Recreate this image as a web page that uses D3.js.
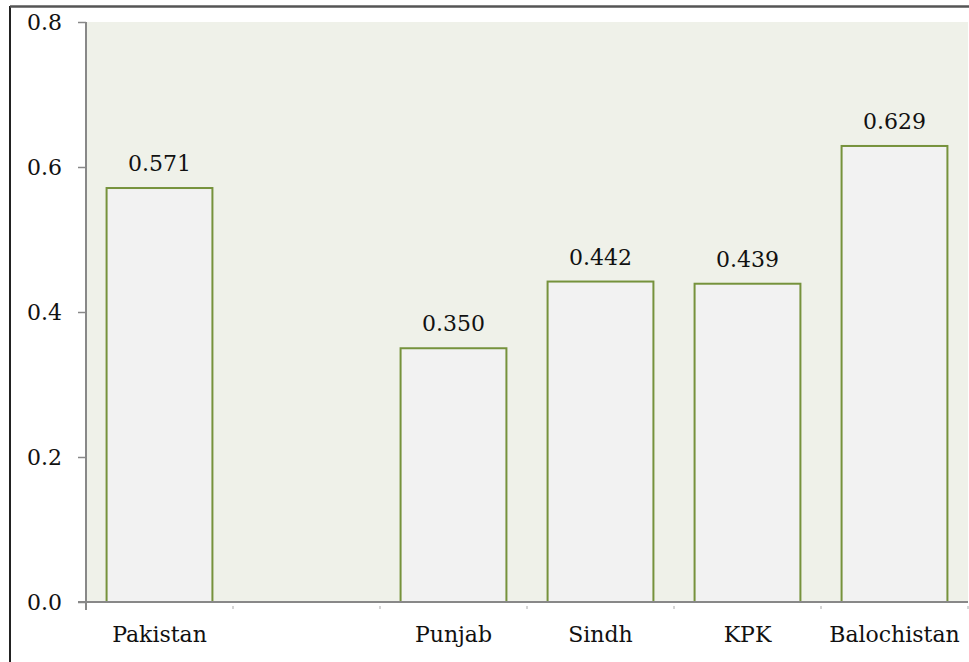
<!DOCTYPE html>
<html lang="en">
<head>
<meta charset="UTF-8">
<title>Bar chart</title>
<script src="https://cdn.jsdelivr.net/npm/d3@7"></script>
<style>
    body { margin: 0; background: #fff; }
    svg { display: block; }
</style>
</head>
<body>
<script>
    const categories = ["Pakistan", "", "Punjab", "Sindh", "KPK", "Balochistan"];
    const values = [0.571, null, 0.350, 0.442, 0.439, 0.629];
    const valueLabels = ["0.571", "", "0.350", "0.442", "0.439", "0.629"];
    const yTicks = [0, 0.2, 0.4, 0.6, 0.8];

    const w = 969, h = 662;
    const margin = { top: 22, right: 1, bottom: 60, left: 86 };
    const serif = "'DejaVu Serif', serif";
    const fs = "22px";

    const svg = d3.select("body").append("svg")
        .attr("width", w)
        .attr("height", h);

    // frame lines from the cropped figure
    svg.append("line").attr("x1", 10).attr("x2", 10).attr("y1", 6).attr("y2", h)
        .attr("stroke", "#222").attr("stroke-width", 2);
    svg.append("line").attr("x1", 10).attr("x2", w).attr("y1", 6.5).attr("y2", 6.5)
        .attr("stroke", "#555").attr("stroke-width", 2.5);

    const x = d3.scaleBand()
        .domain(d3.range(categories.length))
        .range([margin.left, w - margin.right])
        .paddingInner(0.28)
        .paddingOuter(0.14);

    const y = d3.scaleLinear()
        .domain([0, 0.8])
        .range([h - margin.bottom, margin.top]);

    // plot background
    svg.append("rect")
        .attr("x", margin.left)
        .attr("y", margin.top)
        .attr("width", w - margin.right - margin.left)
        .attr("height", y(0) - margin.top)
        .attr("fill", "#eff1e9");

    const data = categories.map((c, i) => ({ i, c, v: values[i], label: valueLabels[i] }))
        .filter(d => d.v != null);

    svg.selectAll(".bar")
        .data(data)
        .enter()
        .append("rect")
        .attr("class", "bar")
        .attr("x", d => x(d.i))
        .attr("y", d => y(d.v))
        .attr("width", x.bandwidth())
        .attr("height", d => y(0) - y(d.v))
        .attr("fill", "#f2f2f2")
        .attr("stroke", "#76923c")
        .attr("stroke-width", 2);

    svg.selectAll(".val")
        .data(data)
        .enter()
        .append("text")
        .attr("class", "val")
        .attr("x", d => x(d.i) + x.bandwidth() / 2)
        .attr("y", d => y(d.v) - 17)
        .attr("text-anchor", "middle")
        .style("font-family", serif)
        .style("font-size", fs)
        .attr("fill", "#111")
        .text(d => d.label);

    // y axis
    const yAxis = d3.axisLeft(y)
        .tickValues(yTicks)
        .tickFormat(d3.format(".1f"))
        .tickSize(8)
        .tickPadding(16);
    const gy = svg.append("g")
        .attr("transform", `translate(${margin.left},0)`)
        .call(yAxis);
    gy.select(".domain").remove();
    gy.selectAll(".tick line").attr("stroke", "#888").attr("stroke-width", 1.5);
    gy.selectAll(".tick text")
        .style("font-family", serif)
        .style("font-size", fs)
        .attr("fill", "#111");
    svg.append("line")
        .attr("x1", margin.left).attr("x2", margin.left)
        .attr("y1", margin.top).attr("y2", y(0) + 8)
        .attr("stroke", "#888").attr("stroke-width", 2);

    // x axis
    svg.append("line")
        .attr("x1", margin.left - 8).attr("x2", w - margin.right)
        .attr("y1", y(0)).attr("y2", y(0))
        .attr("stroke", "#888").attr("stroke-width", 2);

    const boundaries = d3.range(1, categories.length + 1).map(i => margin.left + i * x.step());
    svg.selectAll(".cat-tick")
        .data(boundaries)
        .enter()
        .append("line")
        .attr("x1", d => d).attr("x2", d => d)
        .attr("y1", y(0) + 4).attr("y2", y(0) + 7)
        .attr("stroke", "#aaa").attr("stroke-width", 1);

    svg.selectAll(".cat")
        .data(categories.map((c, i) => ({ c, i })))
        .enter()
        .append("text")
        .attr("class", "cat")
        .attr("x", d => x(d.i) + x.bandwidth() / 2)
        .attr("y", y(0) + 40)
        .attr("text-anchor", "middle")
        .style("font-family", serif)
        .style("font-size", fs)
        .attr("fill", "#111")
        .text(d => d.c);
</script>
</body>
</html>
